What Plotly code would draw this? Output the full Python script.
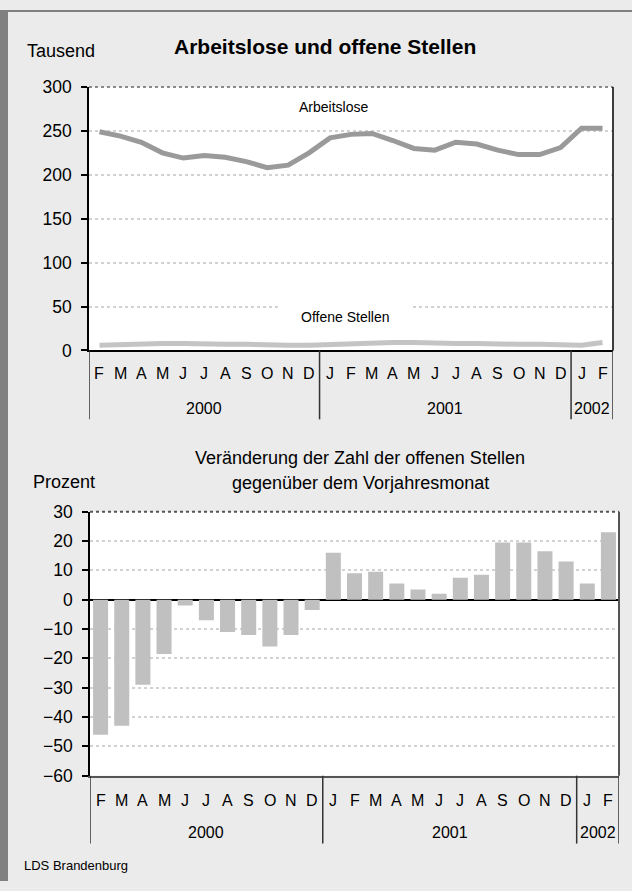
import plotly.graph_objects as go

# ---------------- data ----------------
months = ["F", "M", "A", "M", "J", "J", "A", "S", "O", "N", "D",
          "J", "F", "M", "A", "M", "J", "J", "A", "S", "O", "N", "D",
          "J", "F"]
years = ["2000", "2001", "2002"]
year_spans = [(0, 10), (11, 22), (23, 24)]  # month index ranges per year

arbeitslose = [249, 244, 237, 225, 219, 222, 220, 215, 208, 211, 225,
               242, 246, 247, 239, 230, 228, 237, 235, 228, 223, 223, 231,
               253, 253]
offene_stellen = [6, 7, 8, 8, 8, 7, 7, 7, 6, 6, 6,
                  7, 7, 8, 9, 9, 8, 8, 8, 7, 7, 7, 6,
                  6, 9]
veraenderung = [-46, -43, -29, -18.5, -2, -7, -11, -12, -16, -12, -3.5,
                16, 9, 9.5, 5.5, 3.5, 2, 7.5, 8.5, 19.5, 19.5, 16.5, 13,
                5.5, 23]

top_ticks = [0, 50, 100, 150, 200, 250, 300]
bottom_ticks = [-60, -50, -40, -30, -20, -10, 0, 10, 20, 30]

# ---------------- layout helpers ----------------
W, H = 632, 891
FONT = "Arial, 'Liberation Sans', sans-serif"
# vertical calibration of the photographed page (measured offset/scale)
V_OFF, V_SCALE = 8.93, 0.9793


def px(x):
    return x / W


def py(y):
    yy = (y - V_OFF) / V_SCALE
    return min(1.0, max(0.0, 1 - yy / H))


x_idx = list(range(len(months)))

fig = go.Figure()

fig.add_trace(go.Scatter(x=x_idx, y=arbeitslose, mode="lines",
                         line=dict(color="#9A9A9A", width=5),
                         xaxis="x", yaxis="y", showlegend=False,
                         hoverinfo="skip"))
fig.add_trace(go.Scatter(x=x_idx, y=offene_stellen, mode="lines",
                         line=dict(color="#C4C4C4", width=5),
                         xaxis="x", yaxis="y", showlegend=False,
                         hoverinfo="skip"))
fig.add_trace(go.Bar(x=x_idx, y=veraenderung, marker=dict(color="#C0C0C0", line=dict(width=0)),
                     xaxis="x2", yaxis="y2", showlegend=False, hoverinfo="skip"))

grid = dict(showgrid=True, gridcolor="#D2D2D2", gridwidth=2, griddash="dot")

fig.update_layout(
    width=W, height=H,
    margin=dict(l=0, r=0, t=0, b=0),
    paper_bgcolor="#EBEBEB",
    plot_bgcolor="white",
    font=dict(family=FONT, color="black"),
    bargap=0.29,
    xaxis=dict(domain=[px(89), px(613)], anchor="y", range=[-0.5, 24.5],
               showgrid=False, zeroline=False, showticklabels=False, ticks="",
               showline=True, linecolor="black", linewidth=1.5, fixedrange=True),
    yaxis=dict(domain=[py(350), py(86)], anchor="x", range=[0, 300],
               tickvals=top_ticks, ticks="outside", ticklen=6, tickcolor="black",
               tickwidth=1.5, tickfont=dict(size=17.5), ticklabelstandoff=6,
               showline=True, linecolor="black", linewidth=1.5,
               zeroline=False, **grid),
    xaxis2=dict(domain=[px(90), px(619)], anchor="y2", range=[-0.5, 24.5],
                showgrid=False, zeroline=False, showticklabels=False, ticks="",
                showline=True, linecolor="#555555", linewidth=2, fixedrange=True),
    yaxis2=dict(domain=[py(776), py(511.5)], anchor="x2", range=[-60, 30],
                tickvals=bottom_ticks, ticks="outside", ticklen=6, tickcolor="black",
                tickwidth=1.5, tickfont=dict(size=17.5), ticklabelstandoff=6,
                showline=True, linecolor="black", linewidth=1.5,
                zeroline=True, zerolinecolor="black", zerolinewidth=1.5, **grid),
)

shapes = []
# outer dark frame (top, left, bottom)
for x0, y0, x1, y1 in [(0, 0, W, 11), (0, 0, 8, H + 20), (0, 887, W, H + 20)]:
    shapes.append(dict(type="rect", xref="paper", yref="paper",
                       x0=px(x0), x1=px(x1), y0=py(y1), y1=1 if y0 == 0 else py(y0),
                       fillcolor="#808080", line=dict(width=0), layer="above"))

# plot borders
shapes.append(dict(type="line", xref="x domain", yref="y domain", x0=0, x1=1, y0=1, y1=1,
                   line=dict(color="#8A8A8A", width=2, dash="dot"), layer="above"))
shapes.append(dict(type="line", xref="x domain", yref="y domain", x0=1, x1=1, y0=0, y1=1,
                   line=dict(color="black", width=1.5), layer="above"))
shapes.append(dict(type="line", xref="x2 domain", yref="y2 domain", x0=0, x1=1, y0=1, y1=1,
                   line=dict(color="#555555", width=2, dash="dot"), layer="above"))
shapes.append(dict(type="line", xref="x2 domain", yref="y2 domain", x0=1, x1=1, y0=0, y1=1,
                   line=dict(color="#555555", width=2), layer="above"))

# white gap behind "Offene Stellen" label
shapes.append(dict(type="rect", xref="paper", yref="paper",
                   x0=px(279), x1=px(413), y0=py(330), y1=py(300),
                   fillcolor="white", line=dict(width=0), layer="above"))

# year separators below axes
sep_positions = [-0.5, 10.5, 22.5, 24.5]
for xs in sep_positions:
    shapes.append(dict(type="line", xref="x", yref="paper", x0=xs, x1=xs,
                       y0=py(419), y1=py(350), line=dict(color="#333333", width=1.5)))
    shapes.append(dict(type="line", xref="x2", yref="paper", x0=xs, x1=xs,
                       y0=py(844), y1=py(776), line=dict(color="#333333", width=1.5)))

annotations = []
# month labels
for i, m in enumerate(months):
    annotations.append(dict(text=m, x=i, xref="x", y=py(373), yref="paper",
                            showarrow=False, xanchor="center", yanchor="middle",
                            font=dict(size=16)))
    annotations.append(dict(text=m, x=i, xref="x2", y=py(801), yref="paper",
                            showarrow=False, xanchor="center", yanchor="middle",
                            font=dict(size=16)))
# year labels
for yr, (a, b) in zip(years, year_spans):
    annotations.append(dict(text=yr, x=(a + b) / 2, xref="x", y=py(408), yref="paper",
                            showarrow=False, xanchor="center", yanchor="middle",
                            font=dict(size=16)))
    annotations.append(dict(text=yr, x=(a + b) / 2, xref="x2", y=py(833), yref="paper",
                            showarrow=False, xanchor="center", yanchor="middle",
                            font=dict(size=16)))

# titles and labels
annotations += [
    dict(text="<b>Arbeitslose und offene Stellen</b>", x=px(325), y=py(45),
         xref="paper", yref="paper", showarrow=False, xanchor="center", yanchor="middle",
         font=dict(size=21)),
    dict(text="Tausend", x=px(97), y=py(50), xref="paper", yref="paper",
         showarrow=False, xanchor="right", yanchor="middle", font=dict(size=18)),
    dict(text="Arbeitslose", x=px(333), y=py(106), xref="paper", yref="paper",
         showarrow=False, xanchor="center", yanchor="middle", font=dict(size=14)),
    dict(text="Offene Stellen", x=px(345), y=py(316), xref="paper", yref="paper",
         showarrow=False, xanchor="center", yanchor="middle", font=dict(size=14)),
    dict(text="Veränderung der Zahl der offenen Stellen", x=px(360), y=py(458),
         xref="paper", yref="paper", showarrow=False, xanchor="center", yanchor="middle",
         font=dict(size=18)),
    dict(text="gegenüber dem Vorjahresmonat", x=px(360), y=py(483),
         xref="paper", yref="paper", showarrow=False, xanchor="center", yanchor="middle",
         font=dict(size=18)),
    dict(text="Prozent", x=px(97), y=py(482), xref="paper", yref="paper",
         showarrow=False, xanchor="right", yanchor="middle", font=dict(size=18)),
    dict(text="LDS Brandenburg", x=px(22), y=py(866), xref="paper", yref="paper",
         showarrow=False, xanchor="left", yanchor="middle", font=dict(size=13)),
]

fig.update_layout(shapes=shapes, annotations=annotations)

fig.write_html("out.html", config={"displayModeBar": False},
               post_script="document.body.style.margin='0';document.body.style.overflow='hidden';")
